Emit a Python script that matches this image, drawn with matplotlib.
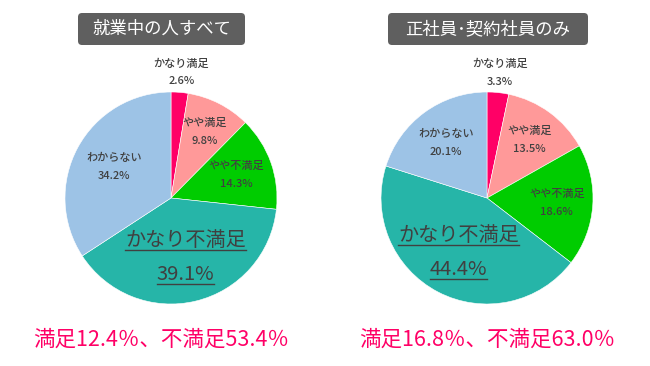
import numpy as np
import matplotlib
matplotlib.use('Agg')
import matplotlib.pyplot as plt
from matplotlib.patches import FancyBboxPatch
from matplotlib.lines import Line2D

plt.rcParams['font.family'] = ['Noto Sans CJK JP', 'DejaVu Sans']

# data
labels = ['かなり満足', 'やや満足', 'やや不満足', 'かなり不満足', 'わからない']
all_workers = [2.6, 9.8, 14.3, 39.1, 34.2]
regular_only = [3.3, 13.5, 18.6, 44.4, 20.1]
titles = ['就業中の人すべて', '正社員･契約社員のみ']
summaries = ['満足12.4％、不満足53.4％', '満足16.8％、不満足63.0％']
colors = ['#FF0066', '#FF9999', '#00CC00', '#26B5A8', '#9DC3E6']

W, H = 650, 366
fig = plt.figure(figsize=(W / 100, H / 100), dpi=100)
ax = fig.add_axes([0, 0, 1, 1])

R = 106
centers = [(171, H - 198), (487, H - 198)]
label_r = [[1.19, 0.70, 0.65, 0.58, 0.61], [1.19, 0.68, 0.66, 0.58, 0.65]]
box_x = [(78, 245), (388, 588)]
summary_x = [161, 487]
underlined = []

for i, vals in enumerate([all_workers, regular_only]):
    cx, cy = centers[i]
    ax.pie(vals, colors=colors, startangle=90, counterclock=False,
           center=(cx, cy), radius=R, frame=True,
           wedgeprops=dict(linewidth=0.4, edgecolor='white'))
    cum = np.cumsum([0] + vals[:-1])
    for j, v in enumerate(vals):
        ang = np.deg2rad(90 - (cum[j] + v / 2) * 3.6)
        r = label_r[i][j] * R
        x, y = cx + r * np.cos(ang), cy + r * np.sin(ang)
        if j == 3:
            t1 = ax.text(x, y + 17, labels[j], ha='center',
                         va='center', fontsize=14.5, color='#404040')
            t2 = ax.text(x, y - 17, f'{v}%', ha='center', va='center',
                         fontsize=14.5, color='#404040')
            underlined += [t1, t2]
        else:
            ax.text(x, y + 9, labels[j], ha='center', va='center',
                    fontsize=8, color='#404040', fontweight='medium')
            ax.text(x, y - 9, f'{v}%', ha='center', va='center',
                    fontsize=8, color='#404040', fontweight='medium')

    # title box
    x0, x1 = box_x[i]
    box = FancyBboxPatch((x0, H - 45), x1 - x0, 32,
                         boxstyle='round,pad=0,rounding_size=4',
                         fc='#5f5f5f', ec='none')
    ax.add_patch(box)
    ax.text((x0 + x1) / 2, H - 29, titles[i], ha='center', va='center',
            fontsize=12.5, color='white')
    ax.text(summary_x[i], H - 340, summaries[i], ha='center',
            va='center', fontsize=15.5, color='#FF0066')

ax.set_xlim(0, W)
ax.set_ylim(0, H)
ax.set_aspect('auto')
ax.axis('off')

# underline the big labels
fig.canvas.draw()
rend = fig.canvas.get_renderer()
for t in underlined:
    bb = t.get_window_extent(rend)
    yb = bb.y0 + 1
    fig.add_artist(Line2D([bb.x0 / W, bb.x1 / W], [yb / H, yb / H],
                          color='#404040', lw=1.0))

fig.savefig('out.png', dpi=100)
